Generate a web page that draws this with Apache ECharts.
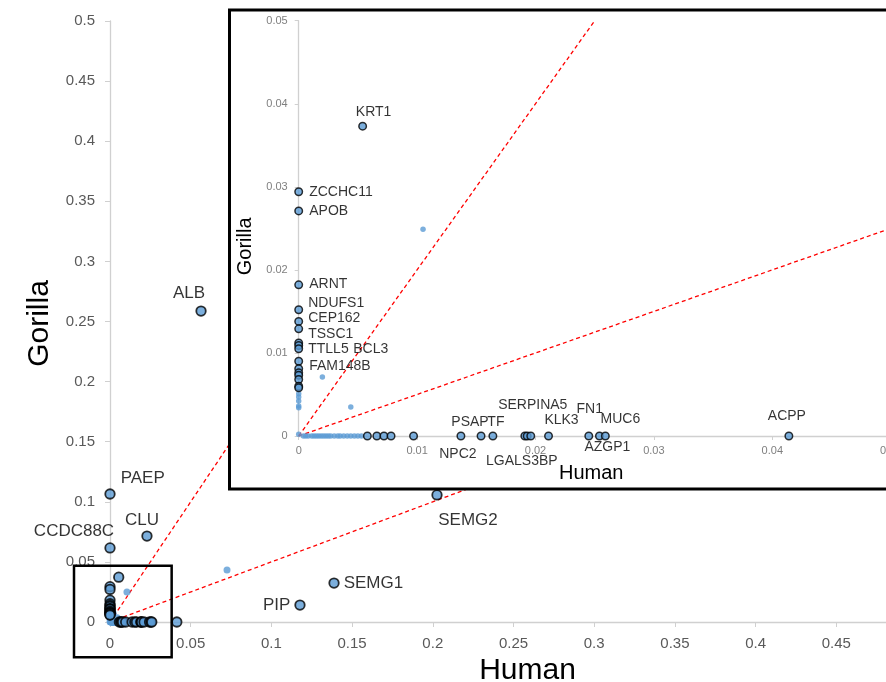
<!DOCTYPE html>
<html>
<head>
<meta charset="utf-8">
<script src="https://cdn.jsdelivr.net/npm/echarts@6/dist/echarts.min.js"></script>
<style>
  html, body { margin: 0; padding: 0; background: #fff; }
  #chart { width: 886px; height: 682px; }
</style>
</head>
<body>
<div id="chart"></div>
<script>
// genes with a black ring
const genes = ['ALB', 'PAEP', 'CLU', 'CCDC88C', 'SEMG2', 'SEMG1', 'PIP',
  'KRT1', 'ZCCHC11', 'APOB', 'ARNT', 'NDUFS1', 'CEP162', 'TSSC1', '', 'BCL3', 'TTLL5', 'FAM148B',
  '', '', '', '', '', '',
  '', '', '', '', '', 'NPC2', 'PSAP', 'TF', 'LGALS3BP', '', 'SERPINA5', 'KLK3', 'FN1', 'AZGP1', 'MUC6', 'ACPP'];
const human = [0.0564, 0, 0.0229, 0, 0.2026, 0.1388, 0.1177,
  0.0054, 0, 0, 0, 0, 0, 0, 0, 0, 0, 0,
  0, 0, 0, 0, 0, 0,
  0.0058, 0.0066, 0.0072, 0.0078, 0.0097, 0.0137, 0.0154, 0.0164, 0.0191, 0.0193, 0.0196, 0.0211, 0.0245, 0.0254, 0.0259, 0.0414];
const gorilla = [0.2587, 0.1065, 0.0715, 0.0616, 0.1057, 0.0324, 0.0141,
  0.0373, 0.0294, 0.0271, 0.0182, 0.0152, 0.0138, 0.0129, 0.0112, 0.0109, 0.0105, 0.0090,
  0.0081, 0.0076, 0.0073, 0.0068, 0.0060, 0.0058,
  0, 0, 0, 0, 0, 0, 0, 0, 0, 0, 0, 0, 0, 0, 0, 0];

// small unringed dots
const dotHuman = [0, 0, 0, 0, 0, 0,
  0.0004, 0.0006, 0.0008, 0.0011, 0.0013, 0.0015, 0.0017, 0.0019, 0.0021, 0.0023, 0.0025, 0.0027,
  0.0030, 0.0033, 0.0035, 0.0038, 0.0041, 0.0044, 0.0047, 0.0050, 0.0053,
  0.0020, 0.0044, 0.0105, 0.0725];
const dotGorilla = [0.0051, 0.0047, 0.0042, 0.0036, 0.0034, 0.0002,
  0, 0, 0, 0, 0, 0, 0, 0, 0, 0, 0, 0,
  0, 0, 0, 0, 0, 0, 0, 0, 0,
  0.0071, 0.0035, 0.0249, 0.0433];

// dashed guides y = k * x
const guideSlopes = [2, 0.5];
// zoomed region marked on the main plot [x0, x1], [y0, y1]
const zoomBoxX = [-0.0223, 0.0382];
const zoomBoxY = [-0.0294, 0.0468];

const mainMax = 0.5, mainStep = 0.05;
const insetMax = 0.05, insetStep = 0.01;

// label placement (style only)
const mainLabelPlace = {
  ALB: ['top', [-12, 1]], PAEP: ['right', [0, -16]], CLU: ['top', [-5, 3]],
  CCDC88C: ['top', [-36, 3]], SEMG2: ['bottom', [31, 6]], SEMG1: ['right', [-1, 0]], PIP: ['left', [1, 0]]
};
const insetLabelPlace = {
  KRT1: ['top', [11, 2]], ZCCHC11: ['right', [1, 0]], APOB: ['right', [1, 0]], ARNT: ['right', [1, -1]],
  NDUFS1: ['right', [0, -7]], CEP162: ['right', [0, -3]], TSSC1: ['right', [0, 5]], TTLL5: ['right', [0, 0]],
  BCL3: ['right', [45, 4]], FAM148B: ['right', [1, 5]],
  NPC2: ['bottom', [-3, 2]], PSAP: ['top', [-11, 3]], TF: ['top', [3, 3]], LGALS3BP: ['bottom', [-3, 9]],
  SERPINA5: ['top', [2, -14]], KLK3: ['top', [13, 1]], FN1: ['top', [1, -10]], MUC6: ['top', [15, 0]],
  AZGP1: ['bottom', [8, -5]], ACPP: ['top', [-2, -3]]
};

const FONT = 'Liberation Sans, Arial, sans-serif';
const BLUE = '#5b9bd5';

function ringed(place) {
  return genes.map((g, i) => {
    const item = { name: g, value: [human[i], gorilla[i]] };
    if (place[g]) {
      item.label = { show: true, position: place[g][0], offset: place[g][1] };
    }
    return item;
  });
}
const dots = dotHuman.map((h, i) => [h, dotGorilla[i]]);

function guides(max, xi, z) {
  return guideSlopes.map(k => ({
    type: 'line', xAxisIndex: xi, yAxisIndex: xi, z: z, silent: true,
    showSymbol: false, symbol: 'none', clip: true,
    data: [[0, 0], [Math.min(max, max / k), Math.min(max, max * k)]],
    lineStyle: { color: '#ff0000', width: 1.3, type: [4, 3] }
  }));
}

function axis(opts) {
  return Object.assign({
    type: 'value', splitLine: { show: false },
    axisLine: { show: true, onZero: false, lineStyle: { color: '#d0d0d0', width: 1.3 } },
    axisTick: { show: true, length: 5, lineStyle: { color: '#d0d0d0' } },
  }, opts);
}

const chart = echarts.init(document.getElementById('chart'));
chart.setOption({
  animation: false,
  backgroundColor: '#fff',
  textStyle: { fontFamily: FONT },
  grid: [
    { left: 110, top: 21, width: 807, height: 601, outerBoundsMode: 'none', containLabel: false },
    { left: 298.7, top: 20.7, width: 592, height: 415.3, outerBoundsMode: 'none', containLabel: false }
  ],
  xAxis: [
    axis({ gridIndex: 0, min: 0, max: mainMax, interval: mainStep, z: 0,
      axisLabel: { fontSize: 15, color: '#595959', margin: 14, fontFamily: FONT },
      name: 'Human', nameLocation: 'middle', nameGap: 31,
      nameTextStyle: { fontSize: 30, color: '#000', fontFamily: FONT, padding: [0, 0, 0, 28] } }),
    axis({ gridIndex: 1, min: 0, max: insetMax, interval: insetStep, z: 11,
      axisTick: { show: true, length: 4, lineStyle: { color: '#d0d0d0' } },
      axisLabel: { fontSize: 11, color: '#7f7f7f', margin: 9, fontFamily: FONT },
      name: 'Human', nameLocation: 'middle', nameGap: 27,
      nameTextStyle: { fontSize: 20, color: '#000', fontFamily: FONT, padding: [0, 7, 0, 0] } })
  ],
  yAxis: [
    axis({ gridIndex: 0, min: 0, max: mainMax, interval: mainStep, z: 0,
      axisLabel: { fontSize: 15, color: '#595959', margin: 15, fontFamily: FONT },
      name: 'Gorilla', nameLocation: 'middle', nameGap: 53,
      nameTextStyle: { fontSize: 30, color: '#000', fontFamily: FONT, padding: [0, 4, 0, 0] } }),
    axis({ gridIndex: 1, min: 0, max: insetMax, interval: insetStep, z: 11,
      axisTick: { show: true, length: 4, lineStyle: { color: '#d0d0d0' } },
      axisLabel: { fontSize: 11, color: '#7f7f7f', margin: 11, fontFamily: FONT },
      name: 'Gorilla', nameLocation: 'middle', nameGap: 40,
      nameTextStyle: { fontSize: 20, color: '#000', fontFamily: FONT, padding: [0, 36, 0, 0] } })
  ],
  series: [
    ...guides(mainMax, 0, 1),
    { type: 'scatter', xAxisIndex: 0, yAxisIndex: 0, z: 2, data: dots, symbolSize: 7,
      itemStyle: { color: BLUE } },
    { type: 'scatter', xAxisIndex: 0, yAxisIndex: 0, z: 3, data: ringed(mainLabelPlace), symbolSize: 9.5,
      itemStyle: { color: BLUE, borderColor: '#000', borderWidth: 1.8 },
      label: { show: false, formatter: '{b}', fontSize: 17, color: '#000', fontFamily: FONT } },
    ...guides(insetMax, 1, 12),
    { type: 'scatter', xAxisIndex: 1, yAxisIndex: 1, z: 13, clip: true, data: dots, symbolSize: 5.5,
      itemStyle: { color: BLUE } },
    { type: 'scatter', xAxisIndex: 1, yAxisIndex: 1, z: 14, clip: true, data: ringed(insetLabelPlace), symbolSize: 7.5,
      itemStyle: { color: BLUE, borderColor: '#000', borderWidth: 1.5 },
      label: { show: false, formatter: '{b}', fontSize: 14, color: '#000', fontFamily: FONT } }
  ]
});

// boxes: zoom marker on main plot (from data) and the inset panel
const a = chart.convertToPixel({ gridIndex: 0 }, [zoomBoxX[0], zoomBoxY[1]]);
const b = chart.convertToPixel({ gridIndex: 0 }, [zoomBoxX[1], zoomBoxY[0]]);
chart.setOption({
  graphic: [
    { id: 'zoomBox', type: 'rect', z: 5, silent: true,
      shape: { x: a[0], y: a[1], width: b[0] - a[0], height: b[1] - a[1] },
      style: { fill: null, stroke: '#000', lineWidth: 2.5 } },
    { id: 'insetPanel', type: 'rect', z: 10, silent: true,
      shape: { x: 229.5, y: 10, width: 700, height: 479 },
      style: { fill: '#fff', stroke: '#000', lineWidth: 3 } }
  ]
});
</script>
</body>
</html>
